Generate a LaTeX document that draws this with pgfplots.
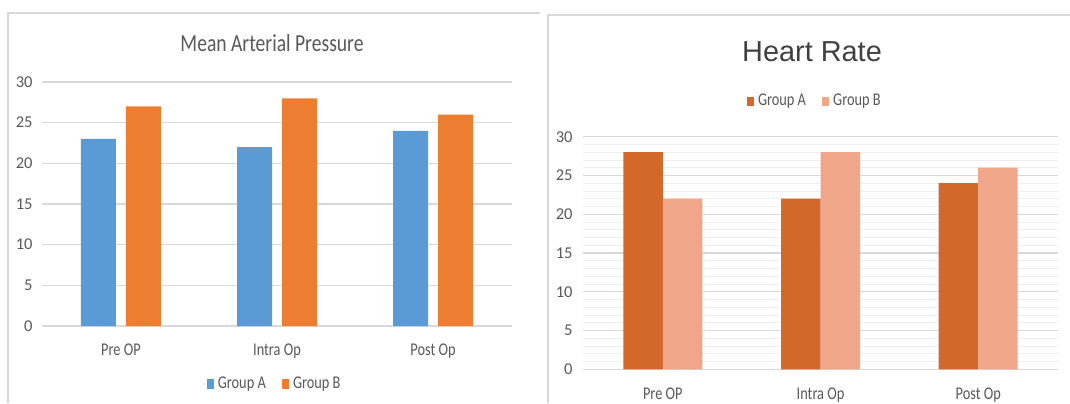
\documentclass[border=0pt]{standalone}
\usepackage{pgfplots}
\pgfplotsset{compat=1.18}
\usepackage{fontspec}
\setmainfont{Carlito}
\newfontfamily\narrow[FakeStretch=0.8]{Carlito}
\newfontfamily\arial{Liberation Sans}
\definecolor{mblue}{HTML}{5B9BD5}
\definecolor{morange}{HTML}{ED7D31}
\definecolor{hrA}{HTML}{D2692A}
\definecolor{hrB}{HTML}{F0A688}
\definecolor{txt}{HTML}{595959}
\definecolor{gridc}{HTML}{D9D9D9}
\definecolor{minorc}{HTML}{EEEEEE}
\pgfplotsset{common/.style={
  scale only axis, ybar, clip=false,
  axis line style={draw=none}, tick style={draw=none},
  ymin=0, ymax=30, ytick={0,5,...,30},
  xmin=-0.506, xmax=2.506, xtick={0,1,2},
  xticklabels={Pre OP, Intra Op, Post Op},
  ymajorgrids, major grid style={gridc, line width=0.6bp},
  /pgf/number format/assume math mode=true,
  ticklabel style={text=txt},
  yticklabel style={font=\fontsize{8.3}{9}\selectfont},
  xticklabel style={font=\narrow\fontsize{9}{10}\selectfont},
  legend columns=2,
  legend style={draw=none, fill=none, font=\narrow\fontsize{9}{10}\selectfont, text=txt,
    anchor=center, inner sep=0pt,
    /tikz/every even column/.append style={column sep=6bp}},
  legend image code/.code={\fill[#1, draw=none] (0,-2.3bp) rectangle (3.6bp,2.3bp);},
}}
\begin{document}
\begin{tikzpicture}[x=1bp,y=1bp]
\path[use as bounding box] (0,0) rectangle (535,201.5);
\draw[gridc, line width=0.6bp] (4,0) -- (4,195) -- (270,195);
\draw[gridc, line width=0.6bp] (274,0) -- (274,194) -- (535,194);

\begin{axis}[common, at={(21bp,38.5bp)}, anchor=south west,
  width=235bp, height=122bp,
  yticklabel style={xshift=-1.2bp},
  xticklabel style={yshift=-1bp},
  legend style={at={(0.497,-0.238)}}]
\addplot[fill=mblue, draw=none, bar width=17.5bp, bar shift=-11.25bp] coordinates {(0,23) (1,22) (2,24)};
\addplot[fill=morange, draw=none, bar width=17.5bp, bar shift=11.25bp] coordinates {(0,27) (1,28) (2,26)};
\legend{Group A, Group B}
\end{axis}
\node[font=\narrow\fontsize{12.3}{14}\selectfont, text=txt] at (136,180) {Mean Arterial Pressure};

\begin{axis}[common, at={(291.5bp,16.85bp)}, anchor=south west,
  width=237.5bp, height=116.3bp,
  minor y tick num=4, yminorgrids, minor grid style={minorc, line width=0.4bp},
  yticklabel style={xshift=-1.7bp},
  xticklabel style={yshift=-1.5bp},
  legend style={at={(0.49,1.152)}}]
\addplot[fill=hrA, draw=none, bar width=19.75bp, bar shift=-9.875bp] coordinates {(0,28) (1,22) (2,24)};
\addplot[fill=hrB, draw=none, bar width=19.75bp, bar shift=9.875bp] coordinates {(0,22) (1,28) (2,26)};
\legend{Group A, Group B}
\end{axis}
\node[font=\arial\fontsize{14.5}{17}\selectfont, text=black!75] at (406,175.5) {Heart Rate};
\end{tikzpicture}
\end{document}
